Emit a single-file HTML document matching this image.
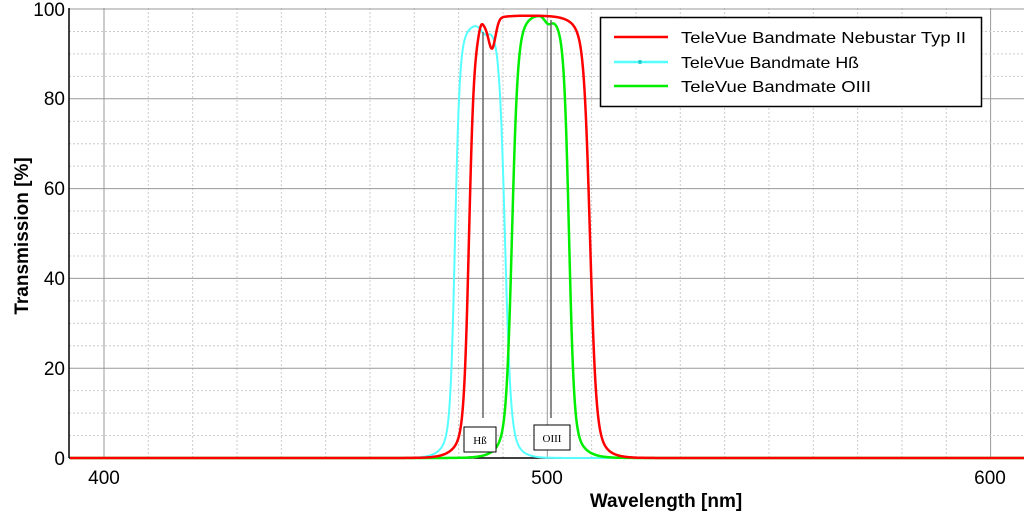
<!DOCTYPE html>
<html><head><meta charset="utf-8"><style>
html,body{margin:0;padding:0;background:#fff;}
svg{display:block;font-family:"Liberation Sans","DejaVu Sans",sans-serif;}
</style></head><body>
<svg id="s" width="1024" height="520" xmlns="http://www.w3.org/2000/svg">
<rect width="1024" height="520" fill="#fff"/>
<g id="grid"></g>
<line x1="69" y1="8" x2="69" y2="458" stroke="#000" stroke-width="1.5"/>
<line x1="69" y1="458" x2="1024" y2="458" stroke="#000" stroke-width="1.5"/>
<g font-size="19" fill="#000" text-anchor="end">
<text x="65" y="16">100</text><text x="65" y="105">80</text><text x="65" y="195">60</text>
<text x="65" y="285">40</text><text x="65" y="375">20</text><text x="65" y="465">0</text>
</g>
<g font-size="19" fill="#000" text-anchor="middle">
<text x="104" y="484">400</text><text x="547" y="484">500</text><text x="990" y="484">600</text>
</g>
<text x="666" y="507" font-size="19" font-weight="bold" text-anchor="middle">Wavelength [nm]</text>
<text transform="translate(28,236) rotate(-90)" font-size="19" font-weight="bold" text-anchor="middle">Transmission [%]</text>
<g id="curves"></g>
<line x1="483" y1="32" x2="483" y2="418" stroke="#666" stroke-width="1.5"/>
<line x1="551" y1="20" x2="551" y2="418" stroke="#666" stroke-width="1.5"/>
<rect x="464" y="427" width="32" height="25" fill="#fff" stroke="#000"/>
<text x="480" y="444" font-size="11" text-anchor="middle" font-family="Liberation Serif,serif">Hß</text>
<rect x="534" y="425" width="36" height="25" fill="#fff" stroke="#000"/>
<text x="552" y="442" font-size="11" text-anchor="middle" font-family="Liberation Serif,serif">OIII</text>
<rect x="600.5" y="17.5" width="381" height="89" fill="#fff" stroke="#000" stroke-width="1.5"/>
<line x1="614" y1="37" x2="668" y2="37" stroke="#f00" stroke-width="2.5"/>
<line x1="614" y1="62" x2="668" y2="62" stroke="#5ff" stroke-width="2.5"/>
<circle cx="640" cy="62" r="2" fill="#2cc"/>
<line x1="614" y1="86" x2="668" y2="86" stroke="#0e0" stroke-width="2.5"/>
<g font-size="16" fill="#000">
<text x="681" y="43" textLength="285" lengthAdjust="spacingAndGlyphs">TeleVue Bandmate Nebustar Typ II</text>
<text x="681" y="68" textLength="178" lengthAdjust="spacingAndGlyphs">TeleVue Bandmate Hß</text>
<text x="681" y="92" textLength="190" lengthAdjust="spacingAndGlyphs">TeleVue Bandmate OIII</text>
</g>
</svg>
<script>
var NS="http://www.w3.org/2000/svg",g=document.getElementById('grid'),c=document.getElementById('curves');
function L(p,x1,y1,x2,y2,col,dash,w){var l=document.createElementNS(NS,'line');l.setAttribute('x1',x1);l.setAttribute('y1',y1);l.setAttribute('x2',x2);l.setAttribute('y2',y2);l.setAttribute('stroke',col);l.setAttribute('stroke-width',w||1);if(dash)l.setAttribute('stroke-dasharray',dash);p.appendChild(l);}
var X0=104,PX=4.433,Y0=458,PY=4.49;
for(var n=390;n<=610;n+=10){var x=X0+(n-400)*PX;if(x<70||x>1024)continue;if(n%100==0)L(g,x,8,x,458,'#999');else L(g,x,8,x,458,'#ccc','2,2');}
for(var v=0;v<=100;v+=5){var y=Y0-v*PY;if(v%20==0)L(g,69,y,1024,y,'#999');else L(g,69,y,1024,y,'#ccc','2,2');}
function lg(z){return 1/(1+Math.exp(-z));}
function edge(d,k,k2){return 0.86*lg(d/k)+0.14*lg(d/k2);}
function band(x,Lx,Rx,kl,kr,k2){var cc=(Lx+Rx)/2;var n=edge(cc-Lx,kl,k2)*edge(Rx-cc,kr,k2);return edge(x-Lx,kl,k2)*edge(Rx-x,kr,k2)/n;}
function path(f,col,w){var d='';for(var x=70;x<=1024;x+=0.5){var y=Y0-f(x)*PY;d+=(d?'L':'M')+x.toFixed(1)+' '+y.toFixed(1);}
var p=document.createElementNS(NS,'path');p.setAttribute('d',d);p.setAttribute('fill','none');p.setAttribute('stroke',col);p.setAttribute('stroke-width',w);c.appendChild(p);}
path(function(x){return 96.5*band(x,455,505,2.3,2.8,8)*(1-0.02*Math.exp(-Math.pow((x-485)/6,2)));},'#5ff',2);
path(function(x){return 98.5*band(x,512,569,2.8,2.5,9)*(1-0.015*Math.exp(-Math.pow((x-548)/5,2)));},'#0e0',2.5);
path(function(x){var t=98.5*band(x,469,590,2.5,3,9);t*=1-0.065*Math.exp(-Math.pow((x-492)/5,2))+0.015*Math.exp(-Math.pow((x-481)/3,2));return t;},'#f00',2.5);
</script>
</body></html>
